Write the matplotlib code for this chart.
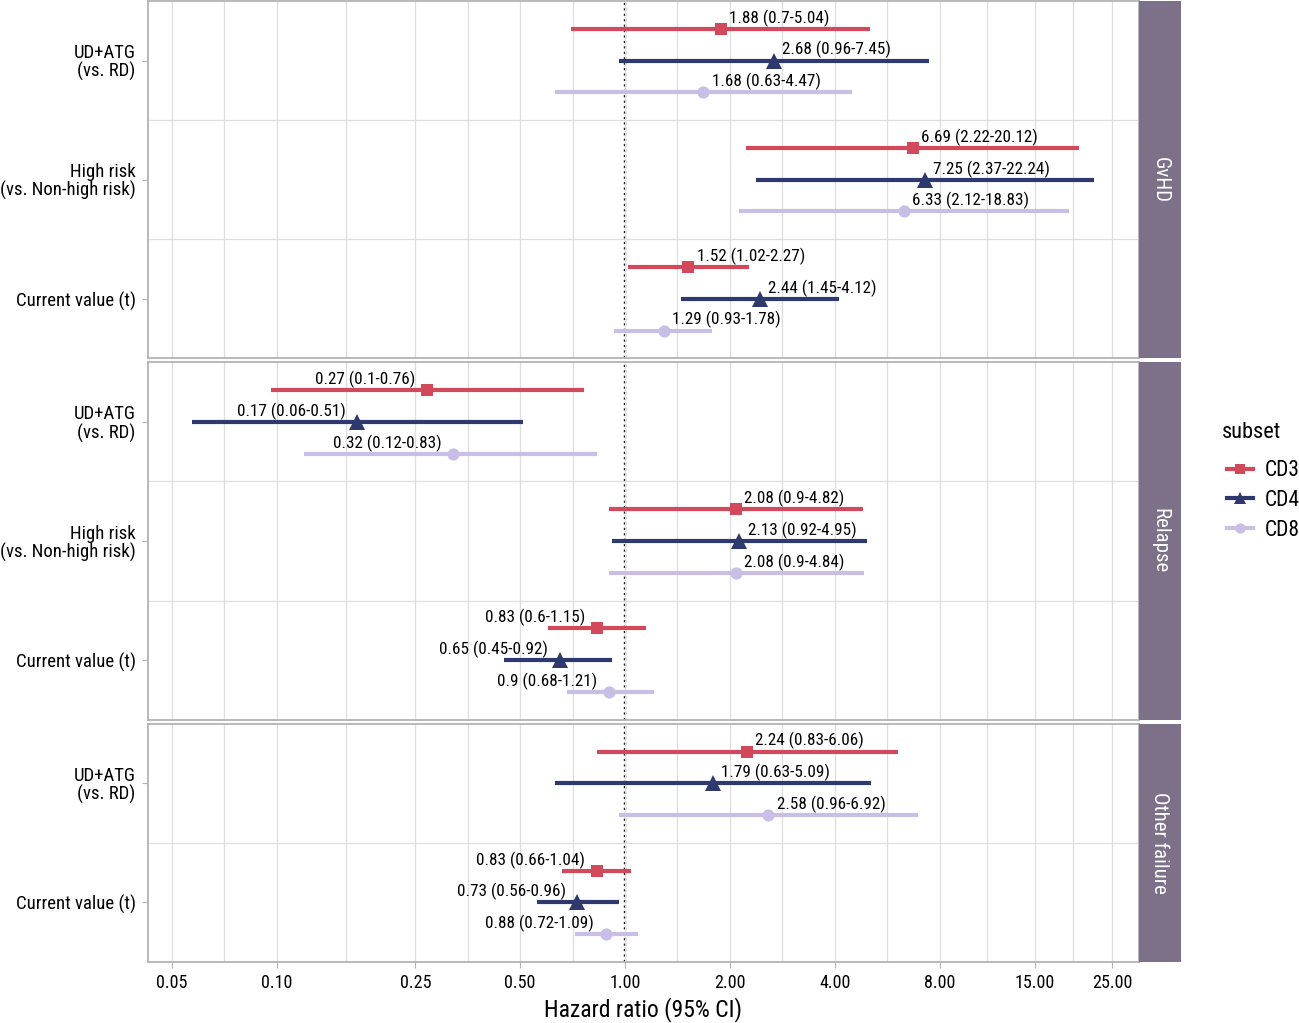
import numpy as np
import matplotlib
matplotlib.use('Agg')
import matplotlib.pyplot as plt
from matplotlib import font_manager
from matplotlib.lines import Line2D
from matplotlib.ticker import FixedLocator, FixedFormatter, NullFormatter

# ---------------- data ----------------
subsets = ['CD3', 'CD4', 'CD8']
outcomes = ['GvHD', 'Relapse', 'Other failure']

gvhd_terms = ['UD+ATG\n(vs. RD)', 'High risk\n(vs. Non-high risk)', 'Current value (t)']
gvhd_hr = [[1.88, 2.68, 1.68], [6.69, 7.25, 6.33], [1.52, 2.44, 1.29]]
gvhd_lo = [[0.70, 0.96, 0.63], [2.22, 2.37, 2.12], [1.02, 1.45, 0.93]]
gvhd_hi = [[5.04, 7.45, 4.47], [20.12, 22.24, 18.83], [2.27, 4.12, 1.78]]

relapse_terms = ['UD+ATG\n(vs. RD)', 'High risk\n(vs. Non-high risk)', 'Current value (t)']
relapse_hr = [[0.27, 0.17, 0.32], [2.08, 2.13, 2.08], [0.83, 0.65, 0.90]]
relapse_lo = [[0.096, 0.057, 0.12], [0.90, 0.92, 0.90], [0.60, 0.45, 0.68]]
relapse_hi = [[0.76, 0.51, 0.83], [4.82, 4.95, 4.84], [1.15, 0.92, 1.21]]

other_terms = ['UD+ATG\n(vs. RD)', 'Current value (t)']
other_hr = [[2.24, 1.79, 2.58], [0.83, 0.73, 0.88]]
other_lo = [[0.83, 0.63, 0.96], [0.66, 0.56, 0.72]]
other_hi = [[6.06, 5.09, 6.92], [1.04, 0.96, 1.09]]

x_breaks = [0.05, 0.10, 0.25, 0.50, 1.00, 2.00, 4.00, 8.00, 15.00, 25.00]
x_break_labels = ['0.05', '0.10', '0.25', '0.50', '1.00', '2.00', '4.00', '8.00', '15.00', '25.00']

# ---------------- style ----------------
avail = {f.name for f in font_manager.fontManager.ttflist}
FONT = 'DejaVu Sans'
for fam in ['Roboto Condensed', 'Liberation Sans Narrow', 'Roboto']:
    if fam in avail:
        FONT = fam
        break
plt.rcParams['font.family'] = [FONT, 'DejaVu Sans']

colors = {'CD3': '#D1495B', 'CD4': '#2E3A6E', 'CD8': '#C8BEE6'}
markers = {'CD3': 's', 'CD4': '^', 'CD8': 'o'}
msizes = {'CD3': 9.2, 'CD4': 11.0, 'CD8': 8.8}
dodge = {'CD3': 0.267, 'CD4': 0.0, 'CD8': -0.267}
strip_col = '#7D7089'
grid_col = '#DEDEDE'
border_col = '#B3B3B3'

W, H = 1299, 1023
fig = plt.figure(figsize=(W / 100, H / 100), dpi=100)


def rect(x0, y0, x1, y1):
    return [x0 / W, 1 - y1 / H, (x1 - x0) / W, (y1 - y0) / H]


def fmt(v):
    return f"{round(v, 2):g}"


panels = [
    ('GvHD', gvhd_terms, gvhd_hr, gvhd_lo, gvhd_hi),
    ('Relapse', relapse_terms, relapse_hr, relapse_lo, relapse_hi),
    ('Other failure', other_terms, other_hr, other_lo, other_hi),
]

px_left, px_right = 148, 1139
top, bottom, gap = 1.0, 962.0, 4.0
n_tot = sum(len(p[1]) for p in panels)
unit = (bottom - top - gap * (len(panels) - 1)) / n_tot

minor = [np.sqrt(a * b) for a, b in zip(x_breaks[:-1], x_breaks[1:])]

y0 = top
for pi, (name, terms, hr, lo, hi) in enumerate(panels):
    n = len(terms)
    y1 = y0 + unit * n
    ax = fig.add_axes(rect(px_left, y0, px_right, y1))
    ax.set_xscale('log')
    ax.set_xlim(0.0427, 29.9)
    ax.set_ylim(0.5, n + 0.5)
    ax.xaxis.set_major_locator(FixedLocator(x_breaks))
    ax.xaxis.set_minor_locator(FixedLocator(minor))
    ax.xaxis.set_minor_formatter(NullFormatter())
    ax.grid(which='major', axis='x', color=grid_col, lw=0.9, zorder=0)
    ax.grid(which='minor', axis='x', color=grid_col, lw=0.9, zorder=0)
    for k in range(1, n):
        ax.axhline(k + 0.5, color=grid_col, lw=0.9, zorder=0)
    ax.axvline(1.0, color='black', lw=1.7, ls=(0, (0.9, 1.4)), zorder=1)

    for ti, term in enumerate(terms):
        ybase = n - ti
        for si, s in enumerate(subsets):
            yy = ybase + dodge[s]
            v, l, h = hr[ti][si], lo[ti][si], hi[ti][si]
            ax.hlines(yy, l, h, color=colors[s], lw=3.0, capstyle='butt', zorder=2)
            ax.plot([v], [yy], marker=markers[s], ms=msizes[s], color=colors[s],
                    mec=colors[s], mew=0, ls='none', zorder=3)
            lab = f"{fmt(v)} ({fmt(l)}-{fmt(h)})"
            if v >= 1:
                ax.annotate(lab, (v, yy), xytext=(6.0, 4.3), textcoords='offset points',
                            ha='left', va='baseline', fontsize=12.3, color='black', zorder=4)
            else:
                ax.annotate(lab, (v, yy), xytext=(-8.3, 4.3), textcoords='offset points',
                            ha='right', va='baseline', fontsize=12.3, color='black', zorder=4)

    ax.set_yticks([n - i for i in range(n)])
    ax.set_yticklabels(terms, fontsize=13.5, linespacing=1.0)
    ax.tick_params(axis='y', which='major', length=4.5, width=0.8, color=border_col, pad=4.5)
    ax.tick_params(axis='x', which='minor', length=0)
    if pi == len(panels) - 1:
        ax.xaxis.set_major_formatter(FixedFormatter(x_break_labels))
        ax.tick_params(axis='x', which='major', length=4.5, width=0.8, color=border_col,
                       labelsize=13, pad=4)
        ax.set_xlabel('Hazard ratio (95% CI)', fontsize=17, labelpad=4)
    else:
        ax.tick_params(axis='x', which='major', length=0, labelbottom=False)
    for sp in ax.spines.values():
        sp.set_color(border_col)
        sp.set_linewidth(1.3)

    sax = fig.add_axes(rect(1139, y0, 1181, y1))
    sax.set_facecolor(strip_col)
    sax.set_xticks([])
    sax.set_yticks([])
    for sp in sax.spines.values():
        sp.set_visible(False)
    sax.text(0.5, 0.5, name, rotation=270, ha='center', va='center', color='white',
             fontsize=15, transform=sax.transAxes)

    y0 = y1 + gap

handles = [Line2D([0], [0], color=colors[s], lw=3.0, marker=markers[s], ms=msizes[s] * 0.85,
                  mew=0) for s in subsets]
leg = fig.legend(handles, subsets, loc='upper left',
                 bbox_to_anchor=(1208 / W, 1 - 441 / H), frameon=False,
                 fontsize=15.5, handlelength=1.17, handletextpad=0.58,
                 labelspacing=0.4)
fig.text(1222 / W, 1 - 432 / H, 'subset', fontsize=16, ha='left', va='center')

fig.savefig('out.png', dpi=100)
